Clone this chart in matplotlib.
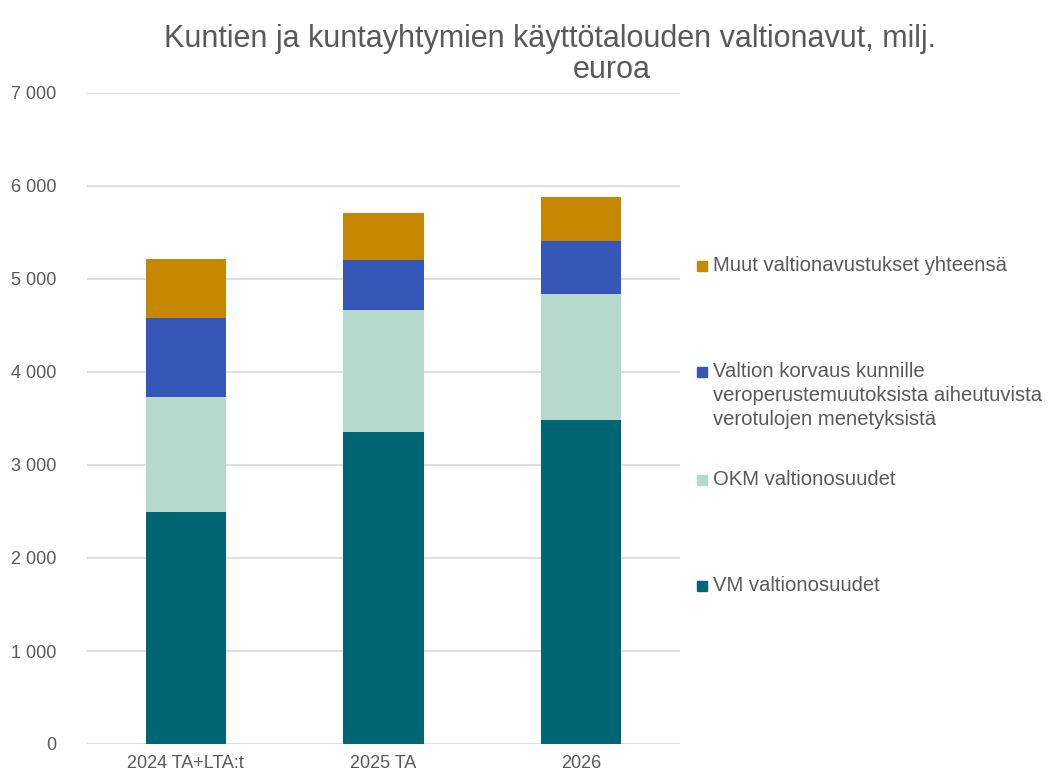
import numpy as np
import matplotlib; matplotlib.use("Agg"); import matplotlib.pyplot as plt
from matplotlib.patches import Rectangle

# values in milj. euroa
categories = ["2024 TA+LTA:t", "2025 TA", "2026"]
vm = [2495, 3355, 3484]
okm = [1236, 1312, 1355]
korvaus = [850, 537, 573]
muut = [634, 506, 470]

series = [
    ("VM valtionosuudet", vm, "#006572"),
    ("OKM valtionosuudet", okm, "#B5D9CD"),
    ("Valtion korvaus kunnille\nveroperustemuutoksista aiheutuvista\nverotulojen menetyksistä", korvaus, "#3557B8"),
    ("Muut valtionavustukset yhteensä", muut, "#C58800"),
]

plt.rcParams["font.family"] = ["Liberation Sans", "DejaVu Sans"]
txt = "#595959"

fig = plt.figure(figsize=(10.52, 7.77), dpi=100)
ax = fig.add_axes([87/1052, 1-744/777, (680-87)/1052, (744-93)/777])

x = np.arange(len(categories))
bottom = np.zeros(len(categories))
for lbl, vals, col in series:
    ax.bar(x, vals, width=0.405, bottom=bottom, color=col, zorder=3)
    bottom += np.array(vals)

ax.set_xlim(-0.5, len(categories)-0.5); ax.set_ylim(0, 7000)
yt = np.arange(0, 7001, 1000)
ax.set_yticks(yt); ax.set_yticklabels([f"{v:,}".replace(",", " ") for v in yt])
ax.set_xticks(x); ax.set_xticklabels(categories)
ax.tick_params(length=0, labelsize=13, colors=txt)
ax.tick_params(axis="y", pad=22)
ax.tick_params(axis="x", pad=8)
ax.grid(axis="y", color="#D9D9D9", lw=1.2, zorder=0)
for s in ax.spines.values(): s.set_visible(False)

fig.text(550/1052, 1-39/777, "Kuntien ja kuntayhtymien käyttötalouden valtionavut, milj.",
         ha="center", va="center", fontsize=22, color=txt)
fig.text(612/1052, 1-70/777, "euroa", ha="center", va="center", fontsize=22, color=txt)

# legend laid out like the original (Excel spacing)
leg_y = {"Muut valtionavustukset yhteensä": 266, "Valtion korvaus": 372,
         "OKM valtionosuudet": 480, "VM valtionosuudet": 586}
for lbl, vals, col in series:
    key = lbl if lbl in leg_y else "Valtion korvaus"
    yp = leg_y[key]
    fig.add_artist(Rectangle((697/1052, 1-(yp+5)/777), 10/1052, 10/777,
                             transform=fig.transFigure, color=col))
    fig.text(713/1052, 1-(yp-10)/777, lbl, ha="left", va="top", fontsize=14.6,
             color=txt, linespacing=1.33)

fig.savefig("out.png", dpi=100)
